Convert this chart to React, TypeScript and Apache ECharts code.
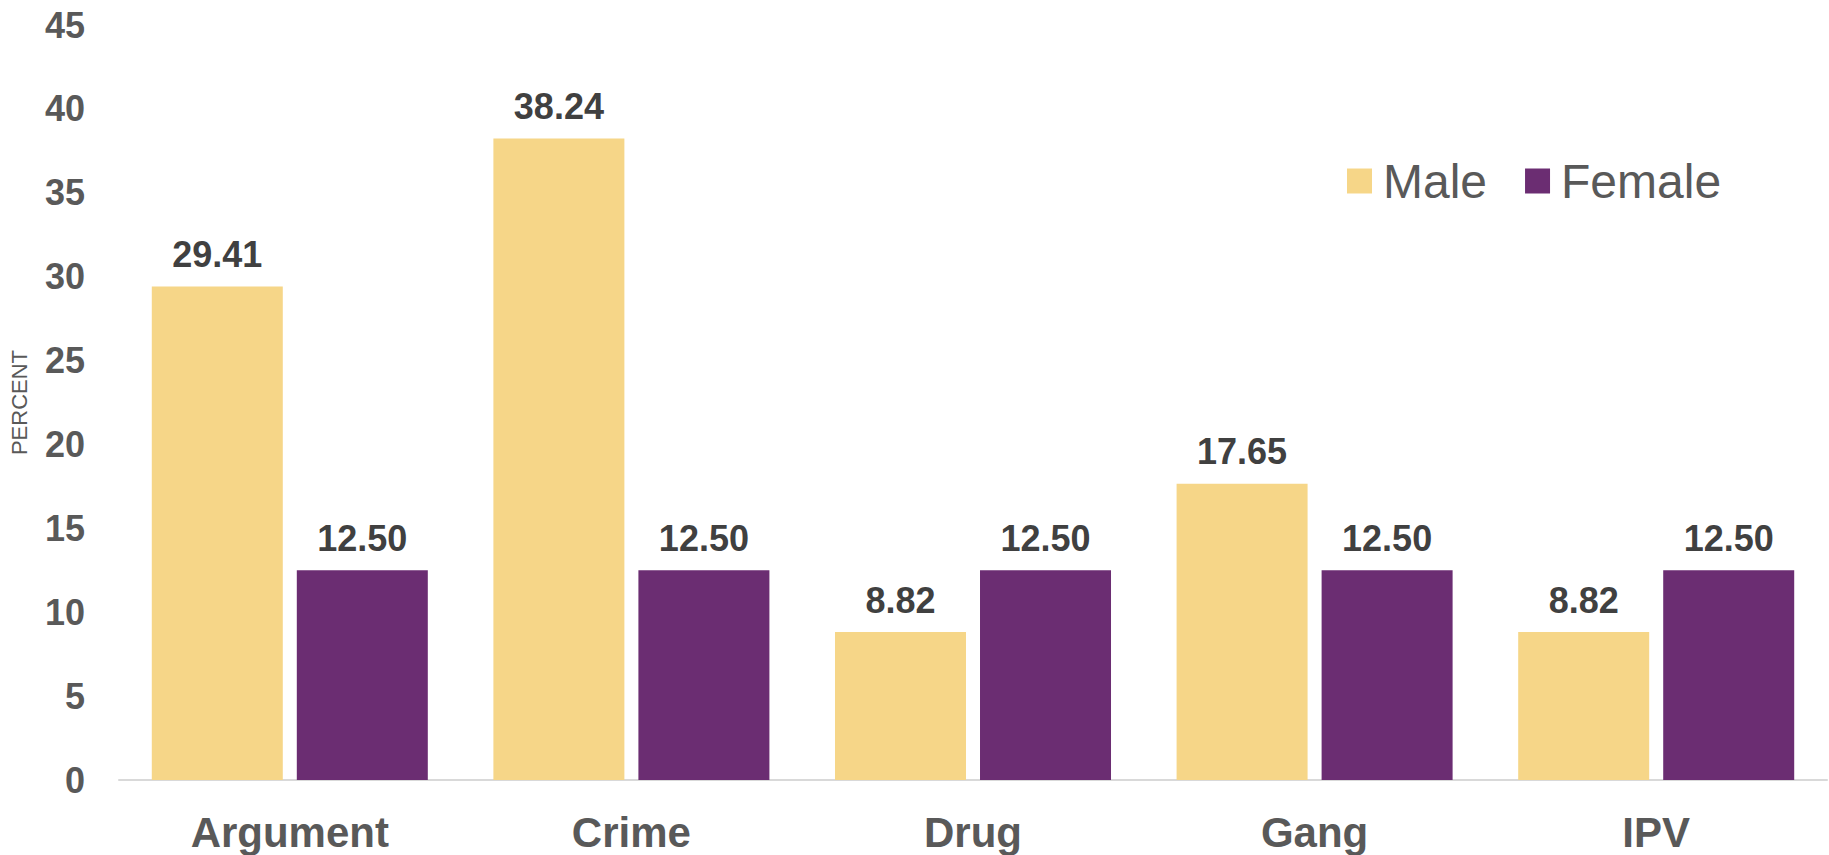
import React, { useEffect, useRef } from "react";
import * as echarts from "echarts";

const categories = ["Argument", "Crime", "Drug", "Gang", "IPV"];
const maleValues = [29.41, 38.24, 8.82, 17.65, 8.82];
const femaleValues = [12.5, 12.5, 12.5, 12.5, 12.5];
const seriesNames = ["Male", "Female"];
const yAxisName = "PERCENT";

const FONT = "'Liberation Sans', Arial, Helvetica, sans-serif";
const MALE_COLOR = "#F6D688";
const FEMALE_COLOR = "#6B2D72";

export default function App() {
  const ref = useRef<HTMLDivElement>(null);

  useEffect(() => {
    if (!ref.current) return;
    const chart = echarts.init(ref.current, null, { renderer: "svg" });
    const labelCfg = {
      show: true,
      position: "top",
      distance: 14,
      fontFamily: FONT,
      fontSize: 36,
      fontWeight: "bold",
      color: "#404040",
      formatter: (p: any) => Number(p.value).toFixed(2),
    };
    chart.setOption({
      animation: false,
      backgroundColor: "#ffffff",
      textStyle: { fontFamily: FONT },
      grid: { left: 117, right: 2, top: 25, bottom: 75, containLabel: false },
      legend: {
        data: seriesNames,
        left: 1347,
        top: 157,
        padding: 0,
        icon: "rect",
        itemWidth: 25,
        itemHeight: 25,
        itemGap: 38,
        textStyle: {
          fontFamily: FONT,
          fontSize: 48,
          color: "#595959",
          padding: [0, 0, 0, 6],
        },
      },
      xAxis: {
        type: "category",
        data: categories,
        axisLine: { show: true, lineStyle: { color: "#D9D9D9", width: 2 } },
        axisTick: { show: false },
        axisLabel: {
          margin: 31,
          fontFamily: FONT,
          fontSize: 42,
          fontWeight: "bold",
          color: "#595959",
        },
      },
      yAxis: {
        type: "value",
        min: 0,
        max: 45,
        interval: 5,
        name: yAxisName,
        nameLocation: "middle",
        nameGap: 89,
        nameTextStyle: { fontFamily: FONT, fontSize: 22, color: "#595959" },
        axisLine: { show: false },
        axisTick: { show: false },
        splitLine: { show: false },
        axisLabel: {
          margin: 34,
          fontFamily: FONT,
          fontSize: 36,
          fontWeight: "bold",
          color: "#595959",
        },
      },
      series: [
        {
          name: seriesNames[0],
          type: "bar",
          data: maleValues,
          barWidth: 131,
          barGap: "10.7%",
          itemStyle: { color: MALE_COLOR },
          label: labelCfg,
        },
        {
          name: seriesNames[1],
          type: "bar",
          data: femaleValues,
          barWidth: 131,
          barGap: "10.7%",
          itemStyle: { color: FEMALE_COLOR },
          label: labelCfg,
        },
      ],
    });
    return () => chart.dispose();
  }, []);

  return (
    <div
      ref={ref}
      style={{ position: "fixed", left: 0, top: 0, width: 1829, height: 855, background: "#fff" }}
    />
  );
}
